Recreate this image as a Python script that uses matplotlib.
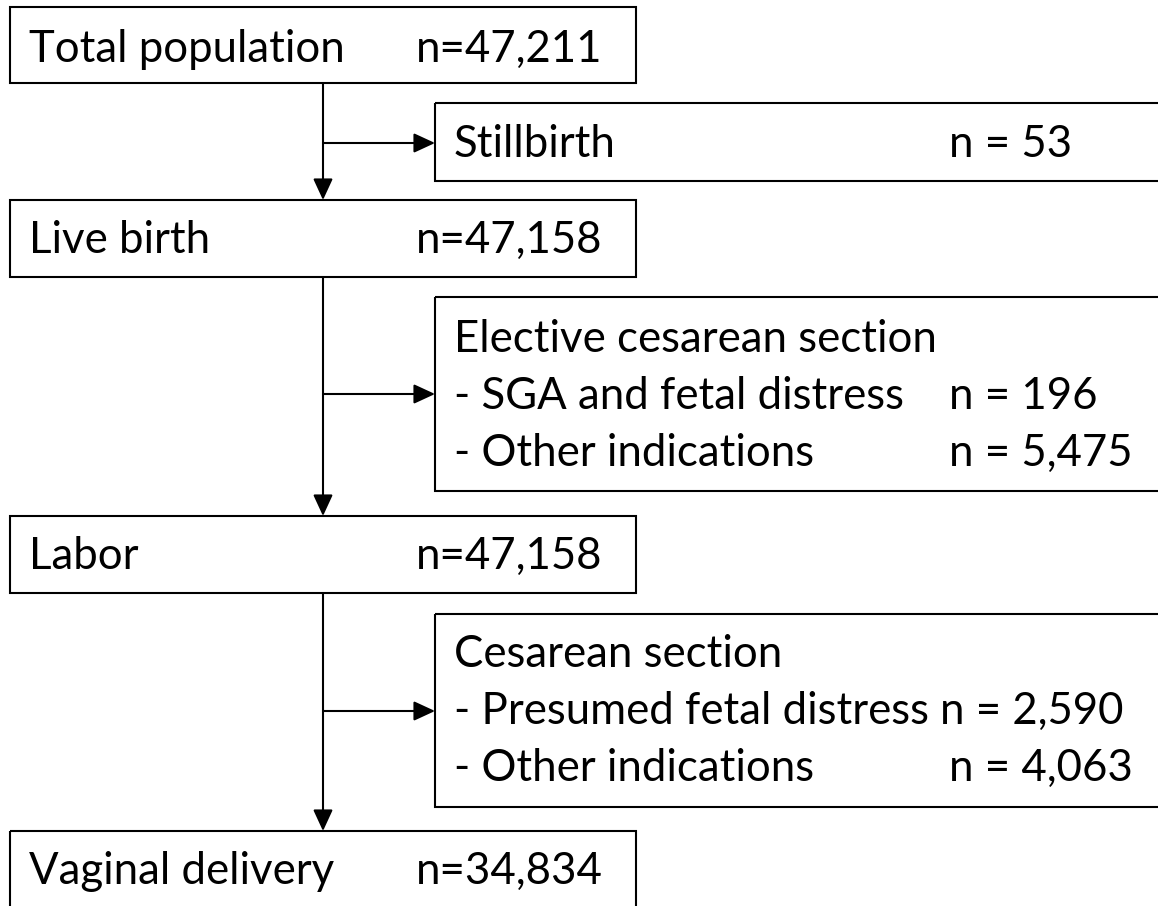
import matplotlib
matplotlib.use("Agg")
import matplotlib.pyplot as plt
from matplotlib.patches import Rectangle

# ---- data ----
main_labels = ["Total population", "Live birth", "Labor", "Vaginal delivery"]
main_counts = ["n=47,211", "n=47,158", "n=47,158", "n=34,834"]

side_titles = ["Stillbirth", "Elective cesarean section", "Cesarean section"]
side_items = [
    [],
    ["- SGA and fetal distress", "- Other indications"],
    ["- Presumed fetal distress", "- Other indications"],
]
side_title_counts = ["n = 53", None, None]
side_item_counts = [
    [],
    ["n = 196", "n = 5,475"],
    ["n = 2,590", "n = 4,063"],
]

# ---- layout (pixel coordinates) ----
W, H = 1158, 906
FONT = "Lato"
FS = 31.5
LW = 1.5

fig = plt.figure(figsize=(W / 100, H / 100), dpi=100)
ax = fig.add_axes([0, 0, 1, 1])
ax.set_xlim(0, W)
ax.set_ylim(H, 0)
ax.axis("off")

main_boxes = [(10, 7, 83), (10, 200, 277), (10, 516, 593), (10, 831, 915)]
main_base = [62, 253, 569, 884]
main_right = 636
side_boxes = [(435, 103, 181), (435, 297, 491), (435, 614, 807)]
side_right = 1170
side_first_base = [157, 352, 667]
line_gap = 57
trunk_x = 323
arrow_y = [143, 394, 711]
ARROW = "-|>,head_length=1.3,head_width=0.6"

def box(x0, y0, x1, y1):
    ax.add_patch(Rectangle((x0, y0), x1 - x0, y1 - y0, fill=False,
                           edgecolor="black", lw=LW, clip_on=True))

for i, (x0, y0, y1) in enumerate(main_boxes):
    box(x0, y0, main_right, y1)
    ax.text(29, main_base[i], main_labels[i], fontsize=FS, family=FONT,
            va="baseline", ha="left")
    ax.text(416, main_base[i], main_counts[i], fontsize=FS, family=FONT,
            va="baseline", ha="left")

for i, (x0, y0, y1) in enumerate(side_boxes):
    box(x0, y0, side_right, y1)
    ax.text(454, side_first_base[i], side_titles[i], fontsize=FS, family=FONT,
            va="baseline", ha="left")
    if side_title_counts[i]:
        ax.text(949, side_first_base[i], side_title_counts[i], fontsize=FS,
                family=FONT, va="baseline", ha="left")
    for j, item in enumerate(side_items[i]):
        yb = side_first_base[i] + line_gap * (j + 1)
        ax.text(454, yb, item, fontsize=FS, family=FONT, va="baseline", ha="left")
        cnt = side_item_counts[i][j]
        if i == 2 and j == 0:
            ax.text(1124, yb, cnt, fontsize=FS, family=FONT, va="baseline", ha="right")
        else:
            ax.text(949, yb, cnt, fontsize=FS, family=FONT, va="baseline", ha="left")

# vertical arrows between main boxes
for k in range(len(main_boxes) - 1):
    y_start = main_boxes[k][2]
    y_end = main_boxes[k + 1][1]
    ax.annotate("", xy=(trunk_x, y_end), xytext=(trunk_x, y_start),
                arrowprops=dict(arrowstyle=ARROW, color="black", lw=LW,
                                shrinkA=0, shrinkB=0))

# horizontal arrows to side boxes
for i, ya in enumerate(arrow_y):
    ax.annotate("", xy=(side_boxes[i][0], ya), xytext=(trunk_x, ya),
                arrowprops=dict(arrowstyle=ARROW, color="black", lw=LW,
                                shrinkA=0, shrinkB=0))

fig.savefig("out.png", dpi=100, facecolor="white")
